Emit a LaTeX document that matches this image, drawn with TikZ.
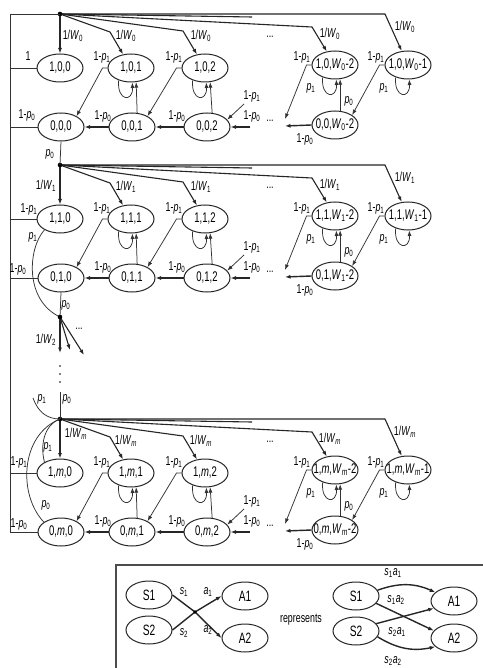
\documentclass[tikz,border=0pt]{standalone}
\usepackage{fontspec}
\setmainfont{Liberation Sans}[FakeStretch=0.68]
\usetikzlibrary{shapes.geometric,arrows.meta}
\newcommand\myp[1]{\textit{p}\textsubscript{#1}}
\newcommand\myW[1]{\textit{W}\textsubscript{#1}}
\newcommand\mys[1]{\textit{s}\textsubscript{#1}}
\newcommand\mya[1]{\textit{a}\textsubscript{#1}}
\newcounter{lc}
\newcommand\lbl[2]{\stepcounter{lc}\node[lab] (lab\thelc) at #1 {#2};}
\tikzset{
 st/.style={ellipse, draw=black!85, line width=1pt, minimum width=46pt, minimum height=28pt, inner xsep=-7pt, inner ysep=0pt, font=\fontsize{14}{14}\selectfont},
 lg/.style={ellipse, draw=black!85, line width=1pt, minimum width=46pt, minimum height=28pt, inner sep=0pt, font=\fontsize{15}{15}\selectfont},
 lab/.style={inner sep=0.5pt, font=\fontsize{13}{13}\selectfont},
 arrtip/.style={-{Latex[length=5.5pt,width=4pt]}},
 lnT/.style={draw=black!80, line width=0.75pt},
 lnK/.style={draw=black!85, line width=1.4pt},
 fan/.style={draw=black!85, line width=1.1pt, arrtip},
 fanl/.style={draw=black!85, line width=1.1pt},
}
% #1 stage text, #2 vertical offset, #3 W subscript, #4 name prefix
\newcommand\stageblock[4]{%
\node[st] (#4t0) at (60,68+#2) {1,#1,0};
\node[st] (#4t1) at (131,68+#2) {1,#1,1};
\node[st] (#4t2) at (205,68+#2) {1,#1,2};
\node[st] (#4tA) at (335,65+#2) {1,#1,\myW{#3}-2};
\node[st] (#4tB) at (408,65+#2) {1,#1,\myW{#3}-1};
\node[st] (#4b0) at (61,127+#2) {0,#1,0};
\node[st] (#4b1) at (132,127+#2) {0,#1,1};
\node[st] (#4b2) at (207,127+#2) {0,#1,2};
\node[st] (#4bA) at (335,125+#2) {0,#1,\myW{#3}-2};
\coordinate (#4h) at (60,14+#2);
\coordinate (#4kB) at (385,14+#2);
\coordinate (#4kX) at (252,17+#2);
\coordinate (#4kA) at (312,27+#2);
\coordinate (#4k2) at (183,31+#2);
\coordinate (#4k1) at (110,32+#2);
\draw[fan] (#4h) -- (#4kB) -- (#4tB);
\draw[fanl] (#4h) -- (#4kX);
\draw[fan] (#4h) -- (#4kA) -- (#4tA);
\draw[fan] (#4h) -- (#4k2) -- (#4t2);
\draw[fan] (#4h) -- (#4k1) -- (#4t1);
\draw[fan] (#4h) -- (#4t0);
\fill (#4h) circle (2.3pt);
\lbl{(126,36+#2)}{1/\myW{#3}}
\lbl{(201,36+#2)}{1/\myW{#3}}
\lbl{(330,34+#2)}{1/\myW{#3}}
\lbl{(405,27+#2)}{1/\myW{#3}}
\lbl{(270,37+#2)}{...}
\coordinate (#4e) at (285,119+#2);
\coordinate (#4f) at (285,126+#2);
\coordinate (#4g) at (250,127+#2);
\coordinate (#4gg) at (244,104+#2);
\draw[lnT,arrtip] (#4t1.west) -- ++(-5,0) -- (#4b0.35);
\draw[lnT,arrtip] (#4t2.west) -- ++(-5,0) -- (#4b1.35);
\draw[lnT,arrtip] (#4tA.west) -- ++(-5,0) -- (#4e);
\draw[lnT,arrtip] (#4tB.west) -- ++(-5,0) -- (#4bA.30);
\draw[lnK,arrtip] (#4b1.west) -- (#4b0.east);
\draw[lnK,arrtip] (#4b2.west) -- (#4b1.east);
\draw[lnK,arrtip] (#4bA.west) -- (#4f);
\draw[lnK,arrtip] (#4g) -- (#4b2.east);
\draw[lnT,arrtip] (#4gg) -- (#4b2.20);
\draw[lnT,arrtip] (#4b1.70) -- (#4t1.290);
\draw[lnT,arrtip] (#4b2.70) -- (#4t2.290);
\draw[lnT,arrtip] (#4bA.70) -- (#4tA.290);
\draw[lnT,arrtip] (#4t1.225) .. controls +(-2,21) and +(1,20) .. (#4t1.275);
\draw[lnT,arrtip] (#4t2.225) .. controls +(-2,21) and +(1,20) .. (#4t2.275);
\draw[lnT,arrtip] (#4tA.225) .. controls +(-2,21) and +(1,20) .. (#4tA.275);
\draw[lnT,arrtip] (#4tB.225) .. controls +(-2,21) and +(1,20) .. (#4tB.275);
\lbl{(102,57+#2)}{1-\myp{1}}
\lbl{(174,57+#2)}{1-\myp{1}}
\lbl{(302,57+#2)}{1-\myp{1}}
\lbl{(376,57+#2)}{1-\myp{1}}
\lbl{(103,116+#2)}{1-\myp{0}}
\lbl{(177,116+#2)}{1-\myp{0}}
\lbl{(252,96+#2)}{1-\myp{1}}
\lbl{(252,116+#2)}{1-\myp{0}}
\lbl{(270,121+#2)}{...}
\lbl{(305,139+#2)}{1-\myp{0}}
\lbl{(311,88+#2)}{\myp{1}}
\lbl{(349,101+#2)}{\myp{0}}
\lbl{(384,88+#2)}{\myp{1}}
}
\begin{document}
\begin{tikzpicture}[x=1pt,y=-1pt]
\useasboundingbox (0,0) rectangle (482,668);
\fill[white] (0,0) rectangle (482,668);
\stageblock{0}{0}{0}{a}
\stageblock{1}{151}{1}{b}
\stageblock{\textit{m}}{405}{\textit{m}}{c}
% left return lines
\coordinate (L0) at (10,14);
\coordinate (L1) at (10,532);
\draw[lnT] (L1) -- (L0) -- (ah);
\draw[lnT] (at0.west) -- (at0.west -| L0);
\draw[lnT] (ab0.west) -- (ab0.west -| L0);
\draw[lnT] (bt0.west) -- (bt0.west -| L0);
\draw[lnT] (bb0.west) -- (bb0.west -| L0);
\draw[lnT] (ct0.west) -- (ct0.west -| L0);
\draw[lnT] (cb0.west) -- (cb0.west -| L0);
% block 0 labels
\lbl{(73,36)}{1/\myW{0}}
\lbl{(28,56)}{1}
\lbl{(27,115)}{1-\myp{0}}
\lbl{(50,154)}{\myp{0}}
\draw[lnT] (ab0.south) -- (bh);
% block 1
\lbl{(46,186)}{1/\myW{1}}
\lbl{(29,209)}{1-\myp{1}}
\lbl{(33,237)}{\myp{1}}
\lbl{(18,269)}{1-\myp{0}}
\lbl{(66,305)}{\myp{0}}
\coordinate (h2) at (60,317);
\draw[lnT] (bb0.south) -- (h2);
\draw[lnT] (bt0.215) .. controls (28,248) and (24,300) .. (h2);
\coordinate (d1) at (60,353);
\coordinate (d2) at (70,350);
\coordinate (d3) at (84,355);
\draw[fan] (h2) -- (d1);
\draw[fan] (h2) -- (d2);
\draw[fan] (h2) -- (d3);
\fill (h2) circle (2.3pt);
\lbl{(46,340)}{1/\myW{2}}
\lbl{(79,329)}{...}
\foreach \yy in {366,374,382} {\fill (60,\yy) circle (0.9pt);}
% block m
\coordinate (cv) at (60,392);
\coordinate (cc) at (33,398);
\draw[lnT] (cv) -- (ch);
\draw[lnT] (cc) .. controls (38,412) and (47,419) .. (ch);
\draw[lnT] (ct0.145) .. controls (40,445) and (44,425) .. (ch);
\draw[lnT] (cb0.150) .. controls (18,495) and (20,435) .. (ch);
\lbl{(42,399)}{\myp{1}}
\lbl{(67,399)}{\myp{0}}
\lbl{(76,434)}{1/\myW{\textit{m}}}
\lbl{(48,447)}{\myp{1}}
\lbl{(19,462)}{1-\myp{1}}
\lbl{(46,505)}{\myp{0}}
\lbl{(19,524)}{1-\myp{0}}
% legend
\draw[draw=black!70, line width=1.2pt] (116,670) -- (116,565) -- (484,565);
\node[lg] (S1) at (149,595) {S1};
\node[lg] (S2) at (149,630) {S2};
\node[lg] (A1) at (245,596) {A1};
\node[lg] (A2) at (245,638) {A2};
\coordinate (X) at (195,612);
\draw[lnK,arrtip] (S1.east) -- (X) -- (A2.west);
\draw[lnK,arrtip] (S2.east) -- (X) -- (A1.west);
\fill (X) circle (1.8pt);
\lbl{(184,592)}{\mys{1}}
\lbl{(184,633)}{\mys{2}}
\lbl{(208,592)}{\mya{1}}
\lbl{(208,630)}{\mya{2}}
\node[lab] (rep) at (301,620) {represents};
\node[lg] (R1) at (356,596) {S1};
\node[lg] (R2) at (356,631) {S2};
\node[lg] (Q1) at (454,601) {A1};
\node[lg] (Q2) at (454,638) {A2};
\draw[lnK,arrtip] (R1.15) to[bend left=22] (Q1.155);
\draw[lnK,arrtip] (R1.-20) -- (Q2.160);
\draw[lnK,arrtip] (R2.20) -- (Q1.-160);
\draw[lnK,arrtip] (R2.-15) to[bend right=22] (Q2.-155);
\lbl{(393,573)}{\mys{1}\mya{1}}
\lbl{(396,600)}{\mys{1}\mya{2}}
\lbl{(397,632)}{\mys{2}\mya{1}}
\lbl{(393,661)}{\mys{2}\mya{2}}
\end{tikzpicture}
\end{document}
